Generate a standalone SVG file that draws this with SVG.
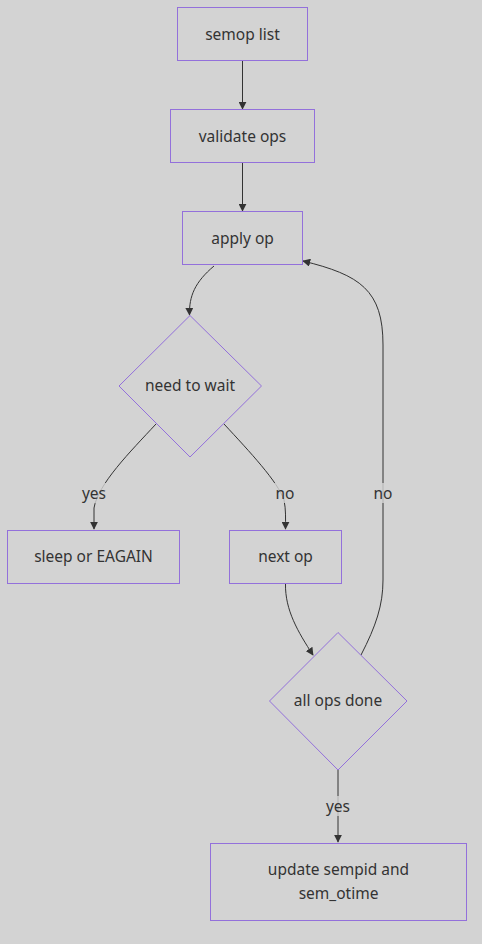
<svg xmlns="http://www.w3.org/2000/svg" width="482" height="944" viewBox="0 0 482 944">
<defs>
<style>
.n{fill:#d3d3d3;stroke:#9370db;stroke-width:1}
.t{font-family:"Noto Sans","Open Sans",sans-serif;font-size:15.5px;fill:#333;text-anchor:middle;dominant-baseline:central}
.e{fill:none;stroke:#333;stroke-width:1}
.lb{fill:#d3d3d3;opacity:0.8}
</style>
<marker id="ah" viewBox="0 0 10 10" refX="9" refY="5" markerWidth="8" markerHeight="8" orient="auto-start-reverse" markerUnits="userSpaceOnUse">
<path d="M0,0 L10,5 L0,10 z" fill="#333"/>
</marker>
</defs>
<rect width="482" height="944" fill="#d3d3d3"/>
<g id="edges">
<path class="e" d="M242.5,61 L242.5,109" marker-end="url(#ah)"/>
<path class="e" d="M242.5,163 L242.5,211" marker-end="url(#ah)"/>
<path class="e" d="M214,266 C195,282 189,296 189.5,315" marker-end="url(#ah)"/>
<path class="e" d="M156,424 C130,452 98,484 94,508 L94,529" marker-end="url(#ah)"/>
<path class="e" d="M224,424 C250,452 278,482 284,500 C286,510 285.5,518 285.5,529" marker-end="url(#ah)"/>
<path class="e" d="M285.5,584 C285,610 298,632 313,655" marker-end="url(#ah)"/>
<path class="e" d="M361,655 C376,626 383,605 383,580 L383,345 C383,290 360,275 303,261" marker-end="url(#ah)"/>
<path class="e" d="M338,770 L338,842" marker-end="url(#ah)"/>
</g>
<g id="edge-labels">
<rect class="lb" x="80" y="483" width="28" height="20"/>
<text class="t" x="94" y="492.5">yes</text>
<rect class="lb" x="274" y="483" width="22" height="20"/>
<text class="t" x="285" y="492.5">no</text>
<rect class="lb" x="372" y="483" width="22" height="20"/>
<text class="t" x="383" y="492.5">no</text>
<rect class="lb" x="324" y="796" width="28" height="20"/>
<text class="t" x="338" y="805.5">yes</text>
</g>
<g id="semop-list">
<rect class="n" x="177.5" y="7.5" width="130" height="53"/>
<text class="t" x="242.5" y="33.5">semop list</text>
</g>
<g id="validate-ops">
<rect class="n" x="170.5" y="109.5" width="144" height="53"/>
<text class="t" x="242.5" y="135.5">validate ops</text>
</g>
<g id="apply-op">
<rect class="n" x="182.5" y="211.5" width="120" height="53"/>
<text class="t" x="242.5" y="237.5">apply op</text>
</g>
<g id="need-to-wait">
<polygon class="n" points="190,315.5 261.5,386 190,457 119,386"/>
<text class="t" x="190" y="385">need to wait</text>
</g>
<g id="sleep-or-eagain">
<rect class="n" x="7.5" y="530.5" width="172" height="53"/>
<text class="t" x="93.5" y="556">sleep or EAGAIN</text>
</g>
<g id="next-op">
<rect class="n" x="229.5" y="530.5" width="112" height="53"/>
<text class="t" x="285.5" y="556">next op</text>
</g>
<g id="all-ops-done">
<polygon class="n" points="338,632.5 407,701 338,770 269.5,701"/>
<text class="t" x="338" y="700">all ops done</text>
</g>
<g id="update-sempid">
<rect class="n" x="210.5" y="843.5" width="256" height="77"/>
<text class="t" x="338.5" y="868.5">update sempid and</text>
<text class="t" x="338.5" y="892.5">sem_otime</text>
</g>
</svg>
